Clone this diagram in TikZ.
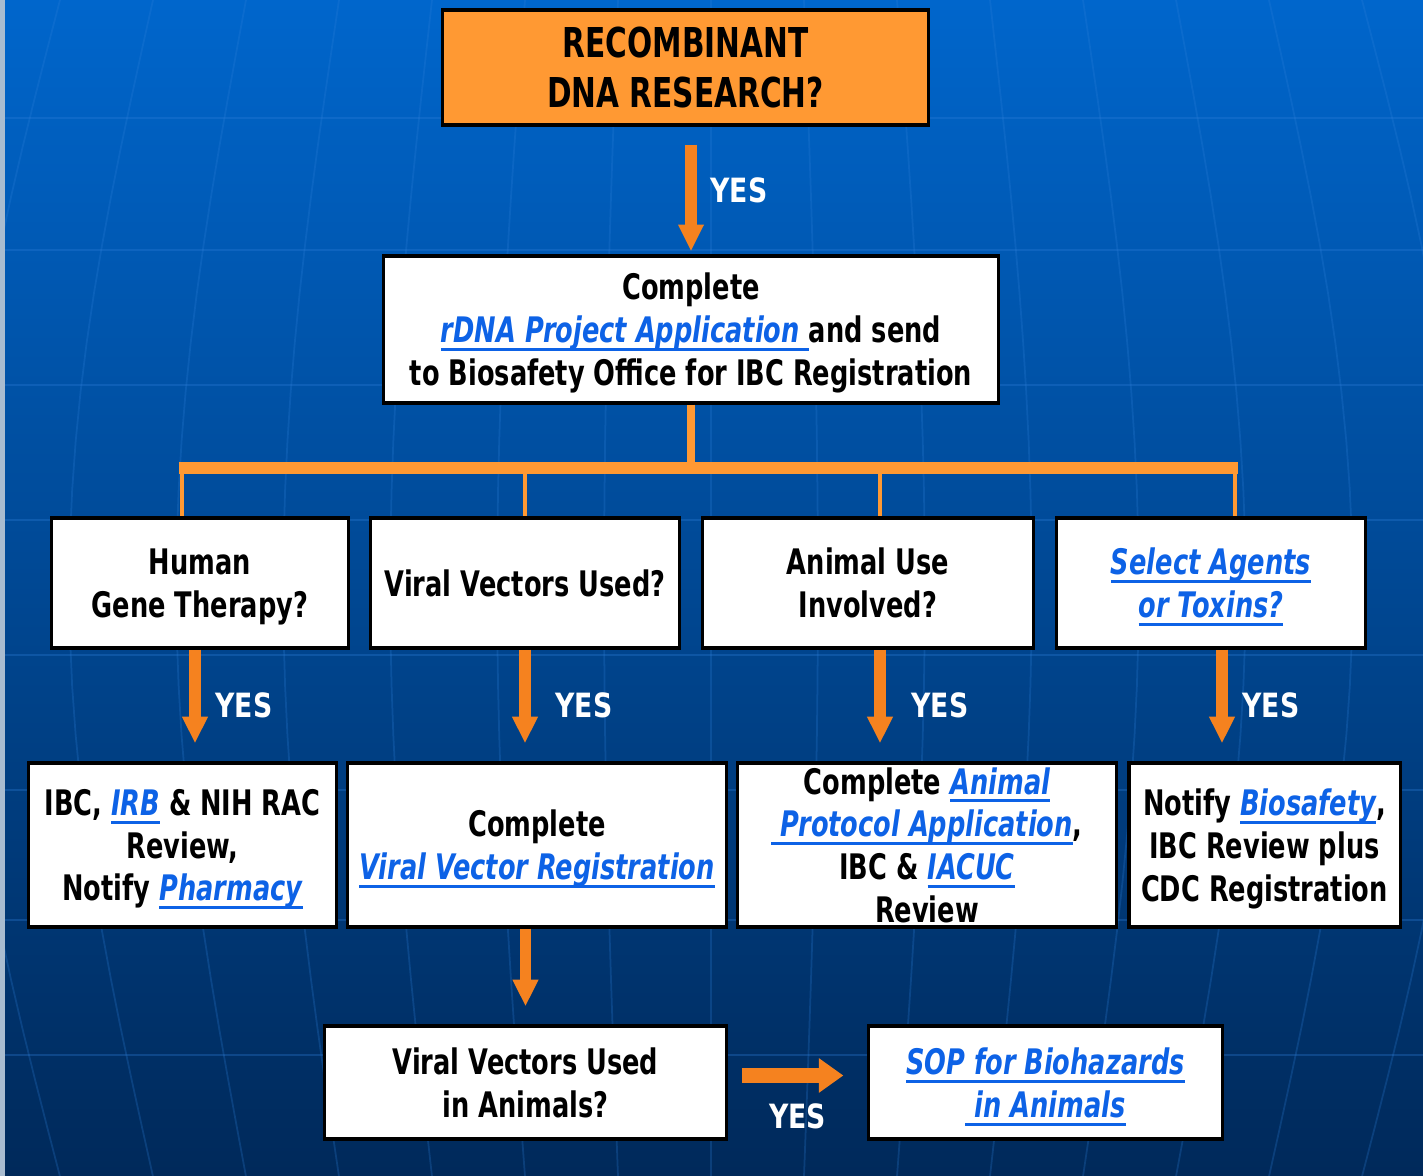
\documentclass[tikz,border=0pt]{standalone}
\usepackage{fontspec}
\setmainfont{DejaVu Sans}[FakeStretch=0.73]
\newfontfamily\yesfont{DejaVu Sans}[FakeStretch=0.8]
\newfontfamily\titlefont{DejaVu Sans}[FakeStretch=0.72]
\usepackage{tikz}
\usetikzlibrary{arrows.meta}
\definecolor{bgtop}{HTML}{0066CC}
\definecolor{bgmid}{HTML}{00489A}
\definecolor{bgbot}{HTML}{00295A}
\definecolor{gridblue}{HTML}{2F80DA}
\definecolor{edgegrey}{HTML}{A9BCD0}
\definecolor{boxorange}{HTML}{FF9933}
\definecolor{arrorange}{HTML}{F5821F}
\definecolor{linkblue}{HTML}{0D62E6}
\newcommand{\lnk}[1]{{\color{linkblue}\itshape\setbox0\hbox{#1}\rlap{\rule[-2.4pt]{\wd0}{0.85pt}}\box0}}

\begin{document}
\begin{tikzpicture}[x=0.01cm,y=-0.01cm,
    base/.style={draw=black,line width=0.9pt,align=center,inner sep=0pt},
    box/.style={base,fill=white,font=\fontsize{10}{12.2}\selectfont\bfseries,text depth=-1pt},
    title/.style={base,fill=boxorange,font=\titlefont\fontsize{11.7}{14.2}\selectfont\bfseries,text depth=-0.6pt},
    yes/.style={text=white,inner sep=0pt,font=\yesfont\fontsize{9.5}{11}\selectfont\bfseries},
    arr/.style={draw=arrorange,line width=3.2pt,-{Triangle[width=6.8pt,length=7.6pt]},shorten >=5.1pt},
    bigarr/.style={draw=arrorange,line width=4.3pt,-{Triangle[width=9.4pt,length=7pt]},
      shorten <=4pt,shorten >=6.8pt},
    brk/.style={draw=boxorange,line width=1.4pt}]

    % background
    \shade[top color=bgtop,middle color=bgmid,bottom color=bgbot] (0,0) rectangle (1423,1176);
    \begin{scope}
      \clip (0,0) rectangle (1423,1176);
      \foreach \gy in {118,250,385,520,655,790,920,1055}
        \draw[gridblue,opacity=.3,line width=.8pt] (0,\gy) -- (1423,\gy);
      \foreach \k in {-8,...,8}
        \draw[gridblue,opacity=.25,line width=.5pt,variable=\t,domain=0:1176,samples=25]
          plot ({711+93*\k*(1+0.15*sin(\t*0.153))},\t);
    \end{scope}
    \fill[edgegrey] (0,0) rectangle (5,1176);

    % boxes
    \node[title,minimum width=4.85cm,minimum height=1.15cm] (rdna) at (685.5,67.5) {RECOMBINANT\\DNA RESEARCH?};
    \node[box,minimum width=6.14cm,minimum height=1.47cm] (appl) at (691,329.5)
      {Complete\\\lnk{rDNA Project Application~}and send\\to Biosafety Office for IBC Registration};

    \node[box,minimum width=2.96cm,minimum height=1.3cm] (gene) at (200,583) {Human\\Gene Therapy?};
    \node[box,minimum width=3.08cm,minimum height=1.3cm] (vvused) at (525,583) {Viral Vectors Used?};
    \node[box,minimum width=3.3cm,minimum height=1.3cm] (animal) at (868,583) {Animal Use\\Involved?};
    \node[box,minimum width=3.08cm,minimum height=1.3cm] (agents) at (1211,583) {\lnk{Select Agents}\\\lnk{or Toxins?}};

    \node[box,minimum width=3.07cm,minimum height=1.64cm] (irb) at (182.5,845)
      {IBC, \lnk{IRB} \& NIH RAC\\Review,\\Notify \lnk{Pharmacy}};
    \node[box,minimum width=3.78cm,minimum height=1.64cm] (vvreg) at (537,845)
      {Complete\\\lnk{Viral Vector Registration}};
    \node[box,minimum width=3.78cm,minimum height=1.64cm] (iacuc) at (927,845)
      {Complete \lnk{Animal}\\\lnk{~Protocol Application},\\IBC \& \lnk{IACUC}\\Review};
    \node[box,minimum width=2.71cm,minimum height=1.64cm] (cdc) at (1264.5,845)
      {Notify \lnk{Biosafety},\\IBC Review plus\\CDC Registration};

    \node[box,minimum width=4.01cm,minimum height=1.13cm] (vvanim) at (525.5,1082.5) {Viral Vectors Used\\in Animals?};
    \node[box,minimum width=3.53cm,minimum height=1.13cm] (sop) at (1045.5,1082.5)
      {\lnk{SOP for Biohazards}\\\lnk{~in Animals}};

    % branching bar
    \coordinate (barL) at (182,468);
    \coordinate (barR) at (1235,468);
    \draw[brk,line width=2pt] (appl.south) -- (appl.south |- barL);
    \draw[brk,line width=3.4pt] ([xshift=-0.03cm]barL) -- ([xshift=0.03cm]barR);
    \draw[brk] (barL) -- (barL |- gene.north);
    \draw[brk] (vvused.north |- barL) -- (vvused.north);
    \draw[brk] ([xshift=0.12cm]animal.north |- barL) -- ([xshift=0.12cm]animal.north);
    \draw[brk] (barR) -- (barR |- agents.north);

    % arrows
    \draw[arr,shorten <=5.1pt,shorten >=0.85pt] (rdna.south -| appl.north) -- node[yes,right=0.14cm] {YES} (appl.north);
    \draw[arr] ([xshift=-0.05cm]gene.south) -- node[yes,right=0.15cm] {YES} ([xshift=-0.05cm]gene.south |- irb.north);
    \draw[arr] (vvused.south) -- node[yes,right=0.25cm] {YES} (vvused.south |- vvreg.north);
    \draw[arr] ([xshift=0.12cm]animal.south) -- node[yes,right=0.26cm] {YES} ([xshift=0.12cm]animal.south |- iacuc.north);
    \draw[arr] ([xshift=0.11cm]agents.south) -- node[yes,right=0.15cm] {YES} ([xshift=0.11cm]agents.south |- cdc.north);
    \draw[arr] (vvreg.south -| vvanim.north) -- (vvanim.north);
    \draw[bigarr] ([yshift=0.07cm]vvanim.east) -- node[yes,below=0.21cm] {YES} ([yshift=0.07cm]vvanim.east -| sop.west);
\end{tikzpicture}
\end{document}
